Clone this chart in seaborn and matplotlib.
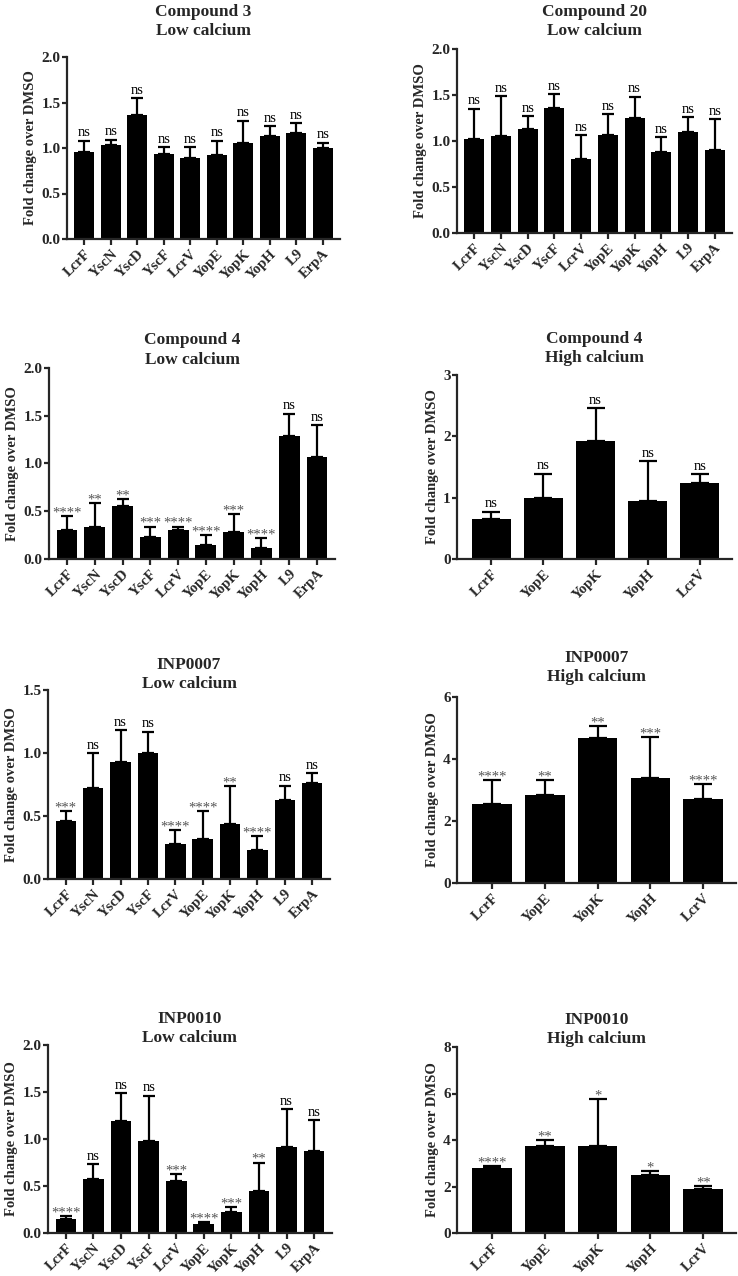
import matplotlib
matplotlib.use("Agg")
import matplotlib.pyplot as plt
import seaborn as sns
import numpy as np

sns.set_style("ticks")
plt.rcParams["font.family"] = ["Liberation Serif", "DejaVu Serif"]

# ── data ──
genes_low = ["LcrF", "YscN", "YscD", "YscF", "LcrV", "YopE", "YopK", "YopH", "L9", "ErpA"]
genes_high = ["LcrF", "YopE", "YopK", "YopH", "LcrV"]

c3_low_mean = [0.96, 1.03, 1.36, 0.93, 0.89, 0.92, 1.05, 1.13, 1.17, 1.00]
c3_low_sd = [0.12, 0.06, 0.19, 0.08, 0.12, 0.16, 0.25, 0.11, 0.10, 0.06]
c3_low_sig = ["ns"] * 10

c20_low_mean = [1.02, 1.05, 1.13, 1.36, 0.80, 1.06, 1.25, 0.88, 1.10, 0.90]
c20_low_sd = [0.33, 0.44, 0.14, 0.15, 0.26, 0.23, 0.23, 0.16, 0.16, 0.34]
c20_low_sig = ["ns"] * 10

c4_low_mean = [0.30, 0.34, 0.55, 0.23, 0.30, 0.15, 0.28, 0.11, 1.29, 1.07]
c4_low_sd = [0.15, 0.25, 0.08, 0.11, 0.04, 0.10, 0.19, 0.11, 0.23, 0.33]
c4_low_sig = ["****", "**", "**", "***", "****", "****", "***", "****", "ns", "ns"]

c4_high_mean = [0.66, 1.00, 1.92, 0.94, 1.24]
c4_high_sd = [0.11, 0.39, 0.54, 0.65, 0.14]
c4_high_sig = ["ns"] * 5

inp7_low_mean = [0.46, 0.72, 0.93, 1.00, 0.28, 0.32, 0.44, 0.23, 0.63, 0.76]
inp7_low_sd = [0.08, 0.28, 0.25, 0.17, 0.11, 0.22, 0.30, 0.11, 0.11, 0.08]
inp7_low_sig = ["***", "ns", "ns", "ns", "****", "****", "**", "****", "ns", "ns"]

inp7_high_mean = [2.56, 2.83, 4.68, 3.40, 2.71]
inp7_high_sd = [0.75, 0.48, 0.38, 1.31, 0.49]
inp7_high_sig = ["****", "**", "**", "***", "****"]

inp10_low_mean = [0.15, 0.57, 1.19, 0.98, 0.55, 0.10, 0.22, 0.45, 0.92, 0.87]
inp10_low_sd = [0.03, 0.16, 0.30, 0.48, 0.08, 0.02, 0.06, 0.30, 0.40, 0.33]
inp10_low_sig = ["****", "ns", "ns", "ns", "***", "****", "***", "**", "ns", "ns"]

inp10_high_mean = [2.78, 3.74, 3.74, 2.49, 1.91]
inp10_high_sd = [0.09, 0.25, 2.01, 0.18, 0.11]
inp10_high_sig = ["****", "**", "*", "*", "**"]

W, H = 738, 1276
fig = plt.figure(figsize=(W / 100, H / 100), dpi=100)


def px_axes(left, right, top, bottom):
    """Axes from pixel box (origin top-left)."""
    return fig.add_axes([left / W, 1 - bottom / H, (right - left) / W, (bottom - top) / H])


def panel(box, title, title_y, genes, mean, sd, sig, yticks, fmt, xlim, capsize):
    ax = px_axes(*box)
    x = np.arange(len(genes))
    sns.barplot(x=genes, y=mean, color="black", width=0.75, saturation=1,
                linewidth=0, ax=ax, zorder=2)
    ax.errorbar(x, mean, yerr=[np.zeros(len(mean)), sd], fmt="none",
                ecolor="black", elinewidth=1.6, capsize=capsize, capthick=1.6, zorder=1)
    for xi, m, s, lab in zip(x, mean, sd, sig):
        if lab == "ns":
            ax.annotate(lab, (xi, m + s), xytext=(0, 1), textcoords="offset points",
                        ha="center", va="bottom", fontsize=10.5, color="black")
        else:
            ax.annotate(lab, (xi, m + s), xytext=(0, -2.5), textcoords="offset points",
                        ha="center", va="bottom", fontsize=10.5, color="#555555")
    ax.set_ylim(yticks[0], yticks[-1])
    ax.set_yticks(yticks)
    ax.set_yticklabels([fmt.format(t) for t in yticks], fontsize=11, fontweight="bold")
    ax.set_xlim(*xlim)
    ax.set_xticks(x)
    ax.set_xticklabels(genes, rotation=45, ha="right", rotation_mode="anchor",
                       fontsize=10.5, fontweight="bold")
    ax.set_ylabel("Fold change over DMSO", fontsize=10.5, fontweight="bold", labelpad=3)
    ax.set_xlabel("")
    sns.despine(ax=ax)
    for sp in ["left", "bottom"]:
        ax.spines[sp].set_linewidth(1.6)
    ax.tick_params(axis="y", width=1.6, length=3.5, pad=1)
    ax.tick_params(axis="x", width=1.6, length=4, pad=2)
    cx = (box[0] + box[1]) / 2
    fig.text(cx / W, 1 - title_y / H, title, ha="center", va="center",
             fontsize=12.5, fontweight="bold", linespacing=1.3)
    return ax


low_xlim = (-0.65, 9.65)
high_xlim = (-0.66, 4.62)
t_low = [0, 0.5, 1.0, 1.5, 2.0]

panel((67, 340, 57, 239), "Compound 3\nLow calcium", 21.5, genes_low,
      c3_low_mean, c3_low_sd, c3_low_sig, t_low, "{:.1f}", low_xlim, 4.5)
panel((457, 732, 49, 233), "Compound 20\nLow calcium", 21.5, genes_low,
      c20_low_mean, c20_low_sd, c20_low_sig, t_low, "{:.1f}", low_xlim, 4.5)
panel((49, 335, 368, 559), "Compound 4\nLow calcium", 350, genes_low,
      c4_low_mean, c4_low_sd, c4_low_sig, t_low, "{:.1f}", low_xlim, 4.5)
panel((457, 732, 375, 559), "Compound 4\nHigh calcium", 348.5, genes_high,
      c4_high_mean, c4_high_sd, c4_high_sig, [0, 1, 2, 3], "{:d}", high_xlim, 6.5)
panel((48, 330, 690, 879), "INP0007\nLow calcium", 674.5, genes_low,
      inp7_low_mean, inp7_low_sd, inp7_low_sig, [0, 0.5, 1.0, 1.5], "{:.1f}", low_xlim, 4.5)
panel((457, 736, 697, 883), "INP0007\nHigh calcium", 667.5, genes_high,
      inp7_high_mean, inp7_high_sd, inp7_high_sig, [0, 2, 4, 6], "{:d}", high_xlim, 6.5)
panel((48, 332, 1045, 1233), "INP0010\nLow calcium", 1028.5, genes_low,
      inp10_low_mean, inp10_low_sd, inp10_low_sig, t_low, "{:.1f}", low_xlim, 4.5)
panel((457, 736, 1047, 1233), "INP0010\nHigh calcium", 1029.5, genes_high,
      inp10_high_mean, inp10_high_sd, inp10_high_sig, [0, 2, 4, 6, 8], "{:d}", high_xlim, 6.5)

fig.savefig("out.png", dpi=100, facecolor="white")
